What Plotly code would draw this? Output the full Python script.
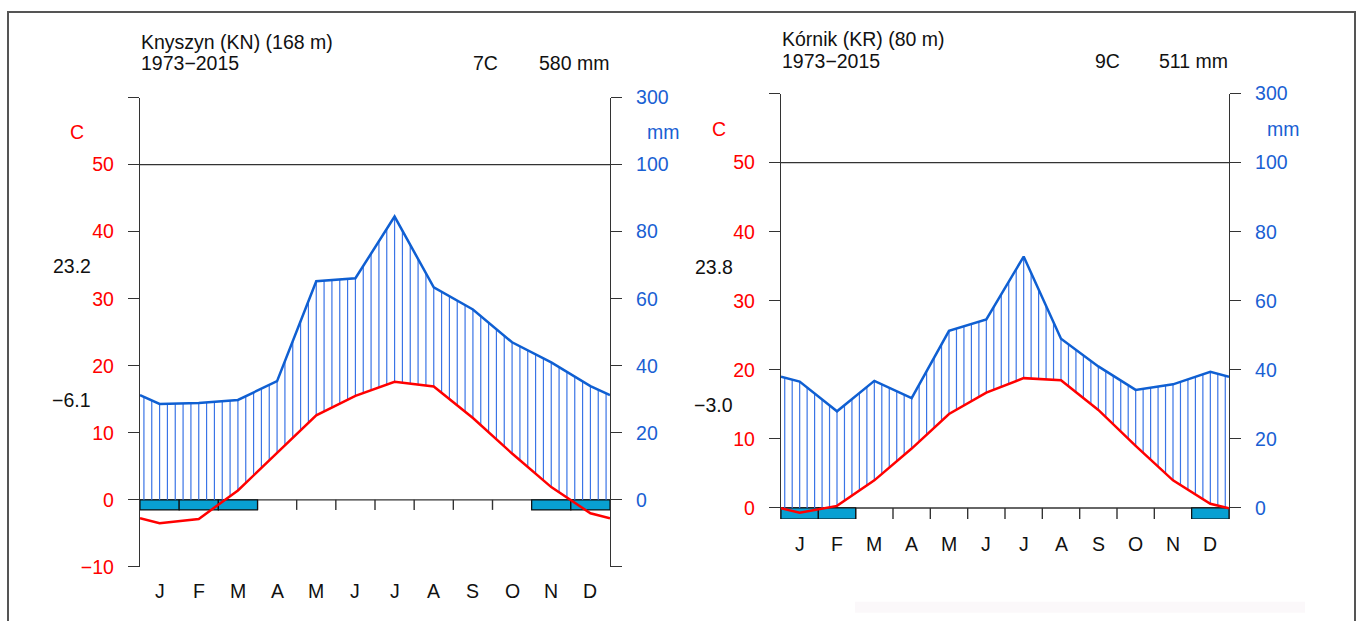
import numpy as np
import plotly.graph_objects as go

W, H = 1360, 621

months = ["J", "F", "M", "A", "M", "J", "J", "A", "S", "O", "N", "D"]

# Knyszyn (KN)
kn_temp = [-3.5, -2.85, 1.4, 7.0, 12.6, 15.5, 17.6, 16.9, 12.2, 6.9, 1.9, -2.0]
kn_prec = [28.6, 28.9, 29.8, 35.4, 65.2, 66.1, 84.5, 63.4, 56.8, 47.0, 41.0, 33.9]
kn_frost = [1, 1, 1, 0, 0, 0, 0, 0, 0, 0, 1, 1]
kn_title = "Knyszyn (KN) (168 m)"
kn_period = "1973\u22122015"
kn_mean_t = "7C"
kn_total_p = "580 mm"
kn_tmax = "23.2"
kn_tmin = "\u22126.1"

# Kórnik (KR)
kr_temp = [-0.7, 0.3, 4.0, 8.6, 13.6, 16.7, 18.8, 18.5, 14.2, 9.0, 4.0, 0.6]
kr_prec = [36.6, 28.0, 36.8, 31.8, 51.3, 54.6, 72.8, 49.0, 41.0, 34.2, 35.8, 39.4]
kr_frost = [1, 1, 0, 0, 0, 0, 0, 0, 0, 0, 0, 1]
kr_title = "K\u00f3rnik (KR) (80 m)"
kr_period = "1973\u22122015"
kr_mean_t = "9C"
kr_total_p = "511 mm"
kr_tmax = "23.8"
kr_tmin = "\u22123.0"

temp_ticks_kn = [-10, 0, 10, 20, 30, 40, 50, 60]
temp_ticks_kr = [0, 10, 20, 30, 40, 50, 60]
prec_ticks_kn = [-20, 0, 20, 40, 60, 80, 100, 120]
prec_ticks_kr = [0, 20, 40, 60, 80, 100, 120]
prec_labels = {-20: "", 0: "0", 20: "20", 40: "40", 60: "60", 80: "80", 100: "100", 120: "300"}

RED = "#ff0000"
BLUE = "#1a5fd3"
LINEBLUE = "#0f5fd2"
HATCH = "#3a74e6"
FROST = "#08a0d2"
AX = "#333333"
FONT = "Liberation Sans, Arial, sans-serif"
FS = 19.5


def Y(p):
    # page-pixel placement (compensates the capture's vertical mapping)
    return (p - 10.3) / 0.966


def px(x, y):
    return x / W, 1 - Y(y) / H


fig = go.Figure()
shapes = []
annotations = []


def panel(temp, prec, frost, xa, ya, ya2, box_h):
    xc = [0] + [i + 0.5 for i in range(12)] + [12]
    t_edge = (temp[0] + temp[-1]) / 2
    p_edge = (prec[0] + prec[-1]) / 2
    t_ext = [t_edge] + list(temp) + [t_edge]
    p_ext = [p_edge] + list(prec) + [p_edge]

    # hatching (humid period)
    hx, hy = [], []
    for k in range(60):
        x = (k + 0.5) / 5
        top = np.interp(x, xc, p_ext) / 2
        bot = max(np.interp(x, xc, t_ext), 0)
        if top > bot:
            hx += [x, x, None]
            hy += [bot, top, None]
    fig.add_trace(go.Scatter(x=hx, y=hy, xaxis=xa, yaxis=ya, mode="lines",
                             line=dict(color=HATCH, width=1.2), hoverinfo="skip",
                             showlegend=False))
    # precipitation
    fig.add_trace(go.Scatter(x=xc, y=p_ext, xaxis=xa, yaxis=ya2, mode="lines",
                             line=dict(color=LINEBLUE, width=2.5), showlegend=False))
    # temperature
    fig.add_trace(go.Scatter(x=xc, y=t_ext, xaxis=xa, yaxis=ya, mode="lines",
                             line=dict(color=RED, width=2.5), showlegend=False))

    for yv in (0, 50):
        shapes.append(dict(type="line", xref=xa, yref=ya, x0=0, x1=12, y0=yv, y1=yv,
                           line=dict(color=AX, width=1.4), layer="below"))
    for i in range(1, 12):
        shapes.append(dict(type="line", xref=xa, yref=ya, x0=i, x1=i, y0=0, y1=-box_h,
                           line=dict(color=AX, width=1.4), layer="below"))
    for i, f in enumerate(frost):
        if f:
            shapes.append(dict(type="rect", xref=xa, yref=ya, x0=i, x1=i + 1,
                               y0=-box_h, y1=0, fillcolor=FROST,
                               line=dict(color="#111111", width=1.2), layer="below"))


panel(kn_temp, kn_prec, kn_frost, "x", "y", "y2", 1.5)
panel(kr_temp, kr_prec, kr_frost, "x2", "y3", "y4", 1.6)

# month labels (x from the axis, y in page pixels)
for i, m in enumerate(months):
    annotations.append(dict(x=i + 0.5, y=1 - Y(591) / H, xref="x", yref="paper", text=m,
                            showarrow=False, font=dict(size=FS, color="#111111"),
                            xanchor="center", yanchor="middle"))
    annotations.append(dict(x=i + 0.5, y=1 - Y(544) / H, xref="x2", yref="paper", text=m,
                            showarrow=False, font=dict(size=FS, color="#111111"),
                            xanchor="center", yanchor="middle"))


def txt(x, y, s, color="#111111", anchor="left", size=FS):
    xp, yp = px(x, y)
    annotations.append(dict(x=xp, y=yp, xref="paper", yref="paper", text=s, showarrow=False,
                            font=dict(size=size, color=color), xanchor=anchor,
                            yanchor="middle"))


txt(139, 41, kn_title)
txt(139, 62, kn_period)
txt(471, 62, kn_mean_t)
txt(611, 62, kn_total_p, anchor="right")
txt(77, 131, "C", RED, "center")
txt(663, 131, "mm", BLUE, "center")
txt(93, 266, kn_tmax, anchor="right")
txt(93, 400, kn_tmin, anchor="right")

txt(780, 38, kr_title)
txt(780, 60, kr_period)
txt(1093, 60, kr_mean_t)
txt(1230, 60, kr_total_p, anchor="right")
txt(719, 128, "C", RED, "center")
txt(1283, 128, "mm", BLUE, "center")
txt(735, 267, kr_tmax, anchor="right")
txt(735, 405, kr_tmin, anchor="right")

# outer frame
shapes.append(dict(type="rect", xref="paper", yref="paper", x0=8 / W, x1=1355 / W,
                   y0=-0.2, y1=1 - 1.0 / H, line=dict(color="#555555", width=2)))
shapes.append(dict(type="rect", xref="paper", yref="paper", x0=855 / W, x1=1305 / W,
                   y0=1 - Y(613) / H, y1=1 - Y(602) / H, fillcolor="#fbf8fa",
                   line=dict(width=0), layer="below"))


def yaxis_common(color):
    return dict(ticks="outside", ticklen=11, tickwidth=1.4, tickcolor=AX,
                showline=True, linecolor=AX, linewidth=1.4, showgrid=False,
                zeroline=False, tickfont=dict(size=FS, color=color),
                ticklabelstandoff=10, fixedrange=True)


# panel geometry in pixels
kn_x = (140, 610)
kn_y = (Y(97), Y(567))      # 60 C .. -10 C
kr_x = (781, 1229)
kr_y = (Y(93), Y(508 + 1.6 * 6.917))  # 60 C .. -1.6 C

layout = dict(
    width=W, height=H, margin=dict(l=0, r=0, t=0, b=0), autosize=False,
    paper_bgcolor="white", plot_bgcolor="white",
    font=dict(family=FONT, size=FS, color="#111111"),
    showlegend=False,
    xaxis=dict(domain=[kn_x[0] / W, kn_x[1] / W], range=[0, 12], showticklabels=False,
               showgrid=False, zeroline=False, showline=False, ticks="", anchor="y"),
    xaxis2=dict(domain=[kr_x[0] / W, kr_x[1] / W], range=[0, 12], showticklabels=False,
                showgrid=False, zeroline=False, showline=False, ticks="", anchor="y3"),
    yaxis=dict(domain=[1 - kn_y[1] / H, 1 - kn_y[0] / H], range=[-10, 60], anchor="x",
               tickvals=temp_ticks_kn,
               ticktext=[("\u2212" + str(-v)) if v < 0 else ("" if v == 60 else str(v))
                         for v in temp_ticks_kn],
               **yaxis_common(RED)),
    yaxis2=dict(domain=[1 - kn_y[1] / H, 1 - kn_y[0] / H], range=[-20, 120], anchor="x",
                overlaying="y", side="right", tickvals=prec_ticks_kn,
                ticktext=[prec_labels[v] for v in prec_ticks_kn], **yaxis_common(BLUE)),
    yaxis3=dict(domain=[1 - kr_y[1] / H, 1 - kr_y[0] / H], range=[-1.6, 60], anchor="x2",
                tickvals=temp_ticks_kr,
                ticktext=["" if v == 60 else str(v) for v in temp_ticks_kr],
                **yaxis_common(RED)),
    yaxis4=dict(domain=[1 - kr_y[1] / H, 1 - kr_y[0] / H], range=[-3.2, 120], anchor="x2",
                overlaying="y3", side="right", tickvals=prec_ticks_kr,
                ticktext=[prec_labels[v] for v in prec_ticks_kr], **yaxis_common(BLUE)),
    shapes=shapes, annotations=annotations,
)
fig.update_layout(**layout)
fig.write_html(
    "out.html",
    config={"responsive": False, "displayModeBar": False},
    post_script=(
        "document.documentElement.style.margin='0';"
        "document.body.style.margin='0';document.body.style.padding='0';"
        "document.body.style.overflow='hidden';"
        "document.documentElement.style.overflow='hidden';"
        "var d=document.getElementById('{plot_id}');"
        "d.style.position='fixed';d.style.top='0px';d.style.left='0px';"
    ),
)
